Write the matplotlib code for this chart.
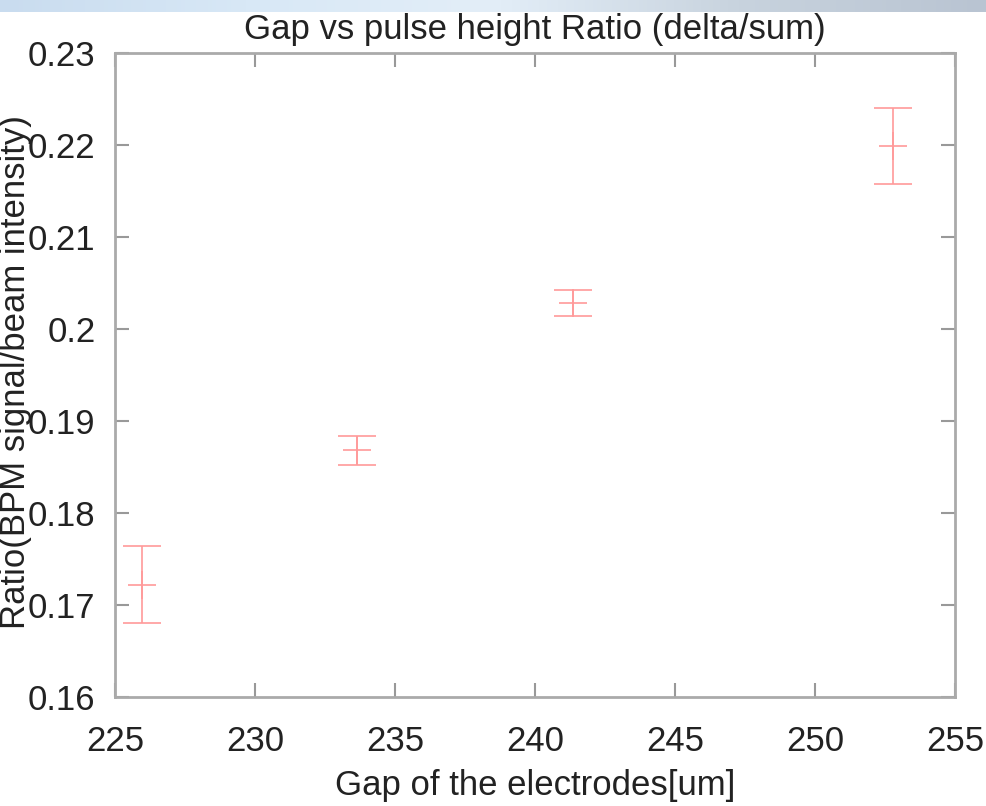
import numpy as np
import matplotlib
matplotlib.use("Agg")
import matplotlib.pyplot as plt

# === DATA ===
gap = [225.95, 233.65, 241.35, 252.8]
ratio = [0.1722, 0.1868, 0.2028, 0.2199]
ratio_err = [0.0042, 0.0016, 0.0014, 0.0041]

xticks = [225, 230, 235, 240, 245, 250, 255]
yticks = [0.16, 0.17, 0.18, 0.19, 0.2, 0.21, 0.22, 0.23]
ytick_labels = ["0.16", "0.17", "0.18", "0.19", "0.2", "0.21", "0.22", "0.23"]

plt.rcParams['font.family'] = ['Liberation Sans Narrow', 'Liberation Sans', 'DejaVu Sans']

fig = plt.figure(figsize=(9.86, 8.06), dpi=100)

# bluish strip at the top (slide background)
strip = fig.add_axes([0, 1 - 12 / 806, 1, 12 / 806])
grad = np.linspace(0, 1, 256)[None, :]
strip.imshow(grad, aspect="auto", cmap=matplotlib.colors.LinearSegmentedColormap.from_list(
    "s", ["#c9dcef", "#d8e8f6", "#e3eef8", "#c8d3de", "#b9c4d2"]))
strip.axis("off")

ax = fig.add_axes([0.1166, 0.1352, 0.852, 0.799])
ax.errorbar(gap, ratio, yerr=ratio_err, fmt="+", color="#ff9a9a", ecolor="#ff9a9a",
            markersize=20, markeredgewidth=1.2, elinewidth=1.2, capsize=14, capthick=1.2)

ax.set_xlim(225, 255)
ax.set_ylim(0.16, 0.23)
ax.set_xticks(xticks)
ax.set_yticks(yticks)
ax.set_yticklabels(ytick_labels)
ax.tick_params(direction="in", length=10, width=1.5, color="#999999",
               top=True, right=True, labelsize=25, labelcolor="#222222")
ax.tick_params(axis="x", pad=20)
ax.tick_params(axis="y", pad=14)
for s in ax.spines.values():
    s.set_color("#aaaaaa")
    s.set_linewidth(2)

ax.set_title("Gap vs pulse height Ratio (delta/sum)", fontsize=25, color="#222222", pad=10)
ax.set_xlabel("Gap of the electrodes[um]", fontsize=25, color="#222222", va="center")
ax.xaxis.set_label_coords(0.5, -0.138)
ax.set_ylabel("Ratio(BPM signal/beam intensity)", fontsize=25, color="#222222", va="center")
ax.yaxis.set_label_coords(-0.118, 0.505)

plt.savefig("out.png", dpi=100)
